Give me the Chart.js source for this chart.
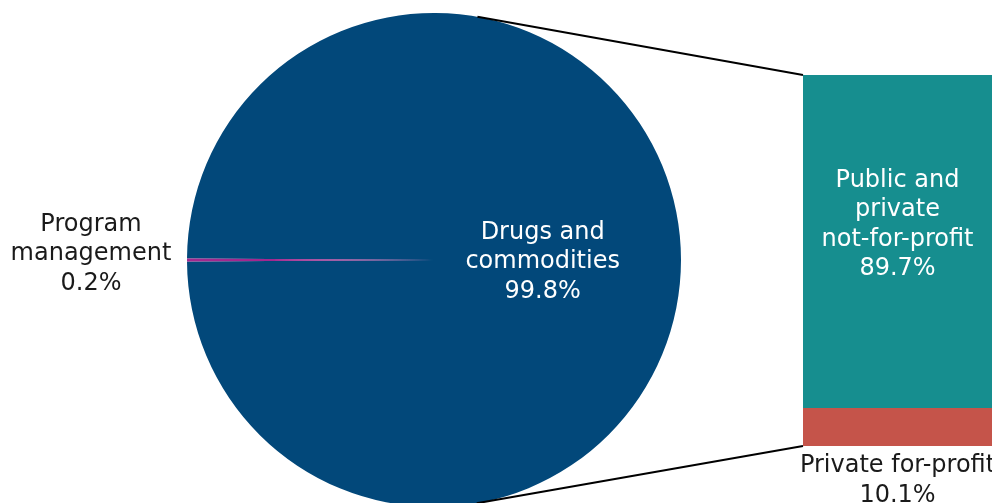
<!DOCTYPE html>
<html>
<head>
<meta charset="utf-8">
<script src="https://cdn.jsdelivr.net/npm/chart.js@4.4.1/dist/chart.umd.min.js"></script>
<style>
  html, body { margin: 0; padding: 0; background: #fff; overflow: hidden; }
  #wrap { position: relative; width: 992px; height: 520px; }
  #wrap canvas { position: absolute; left: 0; top: 0; }
</style>
</head>
<body>
<div id="wrap">
  <canvas id="pieChart" width="992" height="520"></canvas>
  <canvas id="barChart" width="992" height="520"></canvas>
</div>
<script>
// spending split (pie) and breakdown of the big slice (bar)
const pieLabels = [['Drugs and', 'commodities'], ['Program', 'management']];
const pieValues = [99.8, 0.2];
const pieColors = ['#02487A', '#A3288F'];

// stacked from the bottom up
const barLabels = [['Private for-profit'], ['Public and', 'private', 'not-for-profit']];
const barValues = [10.1, 89.7];
const barColors = ['#C5544A', '#168E8F'];

const FONT = '24px "DejaVu Sans", sans-serif';
const LINE_H = 29.5;

function drawLines(ctx, lines, x, y, color) {
  ctx.save();
  ctx.font = FONT;
  ctx.fillStyle = color;
  ctx.textAlign = 'center';
  ctx.textBaseline = 'middle';
  const top = y - (lines.length - 1) * LINE_H / 2;
  lines.forEach((t, i) => ctx.fillText(t, x, top + i * LINE_H));
  ctx.restore();
}

const pieTotal = pieValues.reduce((a, b) => a + b, 0);

const pieText = {
  id: 'pieText',
  afterDatasetsDraw(chart) {
    const ctx = chart.ctx;
    const arcs = chart.getDatasetMeta(0).data;
    arcs.forEach((arc, i) => {
      const lines = pieLabels[i].concat([pieValues[i].toFixed(1) + '%']);
      if (i === 0) {
        drawLines(ctx, lines, arc.x + arc.outerRadius * 0.44, arc.y + 2, '#ffffff');
      } else {
        drawLines(ctx, lines, arc.x - arc.outerRadius - 96, arc.y - 6, '#1a1a1a');
      }
    });
  }
};

const pieChart = new Chart(document.getElementById('pieChart'), {
  type: 'pie',
  data: {
    labels: pieLabels.map(l => l.join(' ')),
    datasets: [{
      data: pieValues,
      backgroundColor: pieColors,
      borderWidth: 0
    }]
  },
  options: {
    responsive: false,
    animation: false,
    devicePixelRatio: 1,
    // small slice sits centred on the left side
    rotation: 270 + (pieValues[1] / pieTotal) * 180,
    layout: { padding: { left: 187, right: 311, top: 13, bottom: 13 } },
    plugins: { legend: { display: false }, tooltip: { enabled: false } }
  },
  plugins: [pieText]
});

const barTotal = barValues.reduce((a, b) => a + b, 0);

const barExtras = {
  id: 'barExtras',
  afterDatasetsDraw(chart) {
    const ctx = chart.ctx;
    const low = chart.getDatasetMeta(0).data[0];
    const high = chart.getDatasetMeta(1).data[0];
    const left = low.x - low.width / 2;
    const top = high.y;
    const bottom = low.base;

    // labels
    drawLines(ctx, barLabels[1].concat([barValues[1].toFixed(1) + '%']),
      high.x, (high.y + high.base) / 2 - 17, '#ffffff');
    drawLines(ctx, barLabels[0].concat([barValues[0].toFixed(1) + '%']),
      low.x, bottom + 20 + LINE_H / 2, '#1a1a1a');

    // connector lines, tangent to the pie
    const arc = pieChart.getDatasetMeta(0).data[0];
    const cx = arc.x, cy = arc.y, r = arc.outerRadius;
    ctx.save();
    ctx.strokeStyle = '#000';
    ctx.lineWidth = 2;
    [[left, top, -1], [left, bottom, 1]].forEach(([px, py, s]) => {
      const dx = px - cx, dy = py - cy;
      const d = Math.hypot(dx, dy);
      const a = Math.atan2(dy, dx) + s * Math.acos(r / d);
      ctx.beginPath();
      ctx.moveTo(cx + r * Math.cos(a), cy + r * Math.sin(a));
      ctx.lineTo(px, py);
      ctx.stroke();
    });
    ctx.restore();
  }
};

new Chart(document.getElementById('barChart'), {
  type: 'bar',
  data: {
    labels: [''],
    datasets: barValues.map((v, i) => ({
      label: barLabels[i].join(' '),
      data: [v],
      backgroundColor: barColors[i],
      borderWidth: 0,
      barPercentage: 1,
      categoryPercentage: 1
    }))
  },
  options: {
    responsive: false,
    animation: false,
    devicePixelRatio: 1,
    layout: { padding: { left: 803, right: 0, top: 75, bottom: 74 } },
    scales: {
      x: { stacked: true, display: false },
      y: { stacked: true, display: false, min: 0, max: barTotal }
    },
    plugins: { legend: { display: false }, tooltip: { enabled: false } }
  },
  plugins: [barExtras]
});
</script>
</body>
</html>
